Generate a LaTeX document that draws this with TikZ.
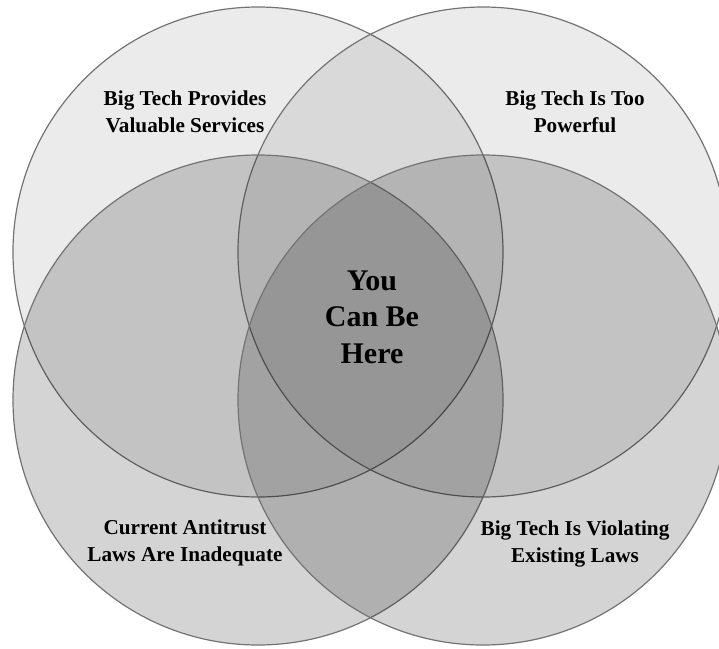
\documentclass[tikz,border=0pt]{standalone}
\usepackage{fontspec}
\setmainfont{Liberation Serif}
\usepackage{tikz}
\usetikzlibrary{positioning}

\begin{document}
\begin{tikzpicture}[x=0.5pt,y=-0.5pt,
  set/.style={circle,minimum size=245pt,inner sep=0pt,draw=black!55,line width=0.6pt,fill=black},
  upper/.style={set,fill opacity=0.08},
  lower/.style={set,fill opacity=0.17},
  label/.style={align=center,font=\bfseries\fontsize{10.6}{13.5}\selectfont},
  middle/.style={align=center,font=\bfseries\fontsize{15}{18.3}\selectfont}]
\useasboundingbox (0,0) rectangle (719,649);
% \draw[help lines,step=50] (0,0) grid (719,649);
\node (services) [upper] at (258,252) {};
\node (powerful) [upper] at (483,252) {};
\node (antitrust) [lower] at (258,400) {};
\node (violating) [lower] at (483,400) {};
%
\node (lservices) [label] at (185,112) {Big Tech Provides\\Valuable Services};
\node (lpowerful) [label] at (575,112) {Big Tech Is Too\\Powerful};
\node (lantitrust) [label] at (185,543) {Current Antitrust\\Laws Are Inadequate};
\node (lviolating) [label] at (575,544) {Big Tech Is Violating\\Existing Laws};
\node (here) [middle] at (372,317) {You\\Can Be\\Here};
\end{tikzpicture}
\end{document}
